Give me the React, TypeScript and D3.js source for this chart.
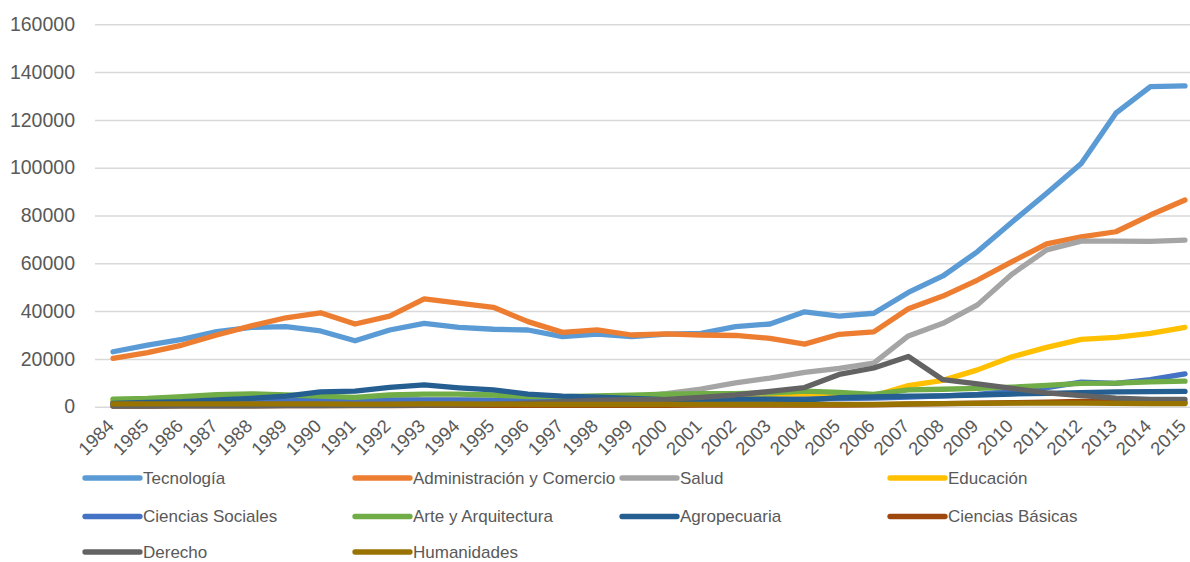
import React, { useEffect, useRef } from 'react';
import * as d3 from 'd3';

// years on the category axis
const years = d3.range(1984, 2016).map(String);

// graduates per area
const tecnologia = [23000, 25800, 28200, 31400, 33200, 33500, 31700, 27600, 32100, 34900, 33200, 32400, 32100, 29300, 30400, 29300, 30400, 30700, 33500, 34600, 39700, 37900, 39100, 47800, 54700, 64900, 77300, 89300, 101800, 122800, 133900, 134200];
const administracion = [20200, 22600, 25800, 30000, 33800, 37200, 39300, 34600, 37900, 45100, 43300, 41600, 35600, 31100, 32100, 30000, 30500, 30000, 29800, 28600, 26200, 30300, 31300, 41000, 46300, 53000, 60700, 68100, 71100, 73200, 80200, 86500];
const salud = [1000, 1000, 1000, 1200, 1200, 1200, 1300, 1300, 1400, 1500, 1500, 1600, 1800, 2200, 3000, 4000, 5500, 7400, 10000, 12000, 14400, 16000, 18200, 29600, 34900, 42600, 55500, 65600, 69300, 69300, 69200, 69700];
const educacion = [2500, 2600, 2800, 3000, 3000, 3000, 2800, 2600, 2600, 2700, 2700, 2600, 2500, 2400, 2400, 2500, 2800, 3000, 3300, 3800, 4800, 5500, 4600, 8800, 11000, 15400, 20900, 24800, 28200, 29000, 30700, 33200];
const cienciasSociales = [1800, 1900, 2000, 2100, 2200, 2400, 2700, 2900, 2800, 2800, 2800, 2700, 2600, 2600, 2600, 2700, 2800, 2900, 3000, 3100, 3200, 3400, 3600, 4000, 4500, 5200, 6500, 8000, 10300, 9800, 11300, 13700];
const arte = [3200, 3500, 4200, 5000, 5400, 4900, 4400, 3900, 4900, 5300, 5300, 4900, 4200, 4200, 4500, 4800, 5200, 5500, 5500, 5800, 6500, 6000, 5200, 7000, 7300, 7700, 8200, 8900, 9800, 9900, 10400, 10700];
const agropecuaria = [1400, 1800, 2100, 2800, 3500, 4400, 6200, 6500, 8100, 9100, 7900, 7000, 5300, 4400, 4000, 3500, 3000, 3000, 3200, 3200, 2800, 3800, 4100, 4400, 4500, 4900, 5300, 5600, 5900, 6200, 6300, 6400];
const cienciasBasicas = [300, 300, 350, 400, 400, 450, 500, 500, 500, 550, 550, 600, 600, 600, 600, 600, 600, 650, 650, 700, 700, 700, 750, 1100, 1300, 1500, 1700, 1900, 2200, 2000, 1900, 1800];
const derecho = [300, 300, 350, 400, 400, 450, 500, 550, 600, 700, 800, 1000, 1500, 2100, 2700, 2900, 3100, 3900, 4900, 6400, 8000, 13500, 16200, 21000, 11300, 9500, 7700, 5800, 4600, 3600, 3100, 3100];
const humanidades = [1200, 1200, 1200, 1200, 1200, 1200, 1200, 1100, 1100, 1200, 1200, 1100, 1000, 1000, 1000, 1000, 1000, 1000, 1000, 1000, 900, 1000, 1000, 1200, 1300, 1400, 1500, 1500, 1500, 1400, 1300, 1300];

const seriesNames = ['Tecnología', 'Administración y Comercio', 'Salud', 'Educación', 'Ciencias Sociales', 'Arte y Arquitectura', 'Agropecuaria', 'Ciencias Básicas', 'Derecho', 'Humanidades'];
const seriesValues = [tecnologia, administracion, salud, educacion, cienciasSociales, arte, agropecuaria, cienciasBasicas, derecho, humanidades];
const colors = ['#5B9BD5', '#ED7D31', '#A5A5A5', '#FFC000', '#4472C4', '#70AD47', '#255E91', '#9E480E', '#636363', '#997300'];

const W = 1190;
const H = 562;

export default function App() {
  const ref = useRef<SVGSVGElement>(null);

  useEffect(() => {
    const svg = d3.select(ref.current);
    svg.selectAll('*').remove();

    const font = '"Liberation Sans", Arial, sans-serif';
    const textColor = '#595959';

    const x = d3.scalePoint<string>().domain(years).range([113, 1185]);
    const y = d3.scaleLinear().domain([0, 160000]).range([406.7, 24.3]);

    // gridlines + y labels
    const yAxis = d3.axisLeft(y).tickValues(d3.range(0, 160001, 20000)).tickSize(-(W - 95)).tickPadding(20).tickFormat(d3.format('d'));
    const gy = svg.append('g').attr('transform', 'translate(95,0)').call(yAxis);
    gy.select('.domain').remove();
    gy.selectAll('.tick line').attr('stroke', '#D9D9D9').attr('stroke-width', 1.5);
    gy.selectAll('.tick text')
      .attr('fill', textColor)
      .attr('font-family', font)
      .attr('font-size', 19.5);

    // x labels, rotated
    const gx = svg.append('g').attr('transform', 'translate(0,406.7)').call(d3.axisBottom(x).tickSize(0).tickPadding(0));
    gx.select('.domain').remove();
    gx.selectAll('.tick text')
      .attr('fill', textColor)
      .attr('font-family', font)
      .attr('font-size', 18.5)
      .attr('text-anchor', 'end')
      .attr('dy', '0.35em')
      .attr('transform', 'translate(-3,16) rotate(-45)');

    // lines
    const line = d3.line<number>()
      .x((_, i) => x(years[i]) as number)
      .y(d => y(d));

    svg.append('g')
      .selectAll('path')
      .data(seriesValues)
      .join('path')
      .attr('d', d => line(d))
      .attr('fill', 'none')
      .attr('stroke', (_, i) => colors[i])
      .attr('stroke-width', 5.3)
      .attr('stroke-linejoin', 'round')
      .attr('stroke-linecap', 'round');

    // legend
    const colX = [85, 355, 622, 890];
    const rowY = [478, 516.5, 552];
    const legend = svg.append('g')
      .selectAll('g')
      .data(seriesNames)
      .join('g')
      .attr('transform', (_, i) => `translate(${colX[i % 4]},${rowY[Math.floor(i / 4)]})`);
    legend.append('line')
      .attr('x1', 0).attr('x2', 55)
      .attr('stroke', (_, i) => colors[i])
      .attr('stroke-width', 5.3)
      .attr('stroke-linecap', 'round');
    legend.append('text')
      .attr('x', 58)
      .attr('dy', '0.35em')
      .attr('fill', textColor)
      .attr('font-family', font)
      .attr('font-size', 17)
      .text(d => d);
  }, []);

  return (
    <svg ref={ref} width={W} height={H} style={{ position: 'absolute', left: 0, top: 0, background: '#fff' }} />
  );
}
